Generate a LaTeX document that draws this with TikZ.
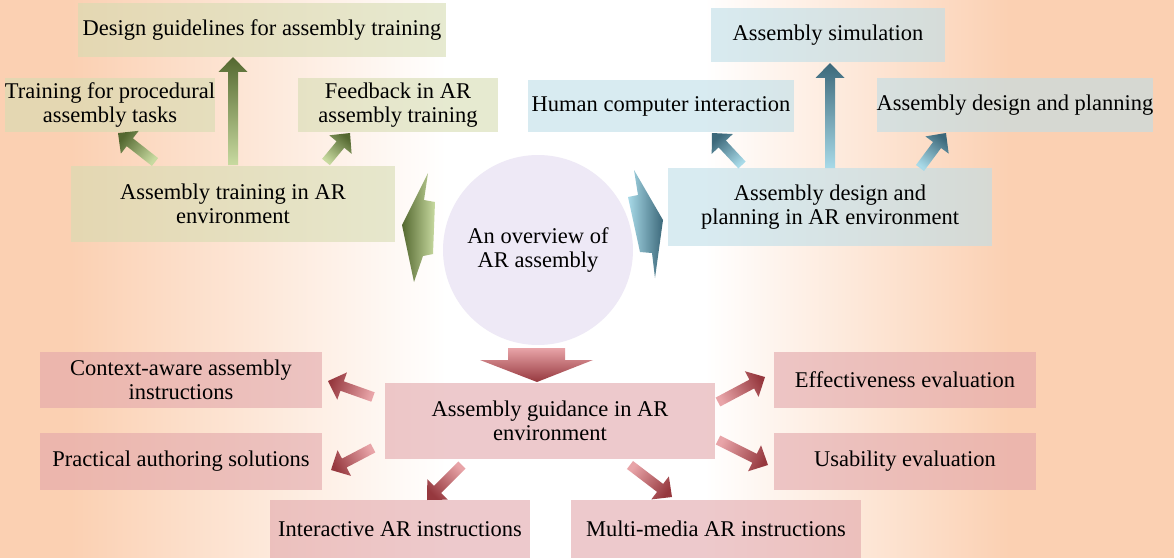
\documentclass[tikz,border=0pt]{standalone}
\usepackage{fontspec}
\setmainfont{Liberation Serif}
\usetikzlibrary{calc}
\definecolor{peach}{RGB}{251,208,178}
\definecolor{olivebox}{RGB}{214,220,178}
\definecolor{bluebox}{RGB}{190,222,232}
\definecolor{redbox}{RGB}{226,166,170}
\definecolor{lavender}{RGB}{238,233,246}
\definecolor{olivedark}{RGB}{84,104,48}
\definecolor{olivelight}{RGB}{200,218,160}
\definecolor{bluedark}{RGB}{60,104,122}
\definecolor{bluelight}{RGB}{168,218,232}
\definecolor{reddark}{RGB}{150,56,62}
\definecolor{redlight}{RGB}{232,164,168}
% the path is fitted to the middle 50bp of the shading
\pgfdeclarehorizontalshading{backdrop}{100bp}{color(0bp)=(peach); color(28bp)=(peach); color(44bp)=(white); color(55bp)=(white); color(68bp)=(peach); color(100bp)=(peach)}
\tikzset{
  box/.style={rectangle, inner sep=0pt, align=center, fill opacity=0.6, text opacity=1,
    font=\fontsize{12.8}{14}\selectfont},
  trainbox/.style={box, fill=olivebox},
  designbox/.style={box, fill=bluebox},
  guidebox/.style={box, fill=redbox},
}
% block arrow: tail, head, light colour, dark colour, shading angle
\newcommand{\blockarrow}[5]{%
  \shade[top color=#4, bottom color=#3, shading angle=#5]
    ($(#1)!0.1cm!90:(#2)$) -- ($($(#2)!0.3cm!(#1)$)!0.1cm!90:(#2)$)
    -- ($($(#2)!0.3cm!(#1)$)!0.29cm!90:(#2)$) -- (#2)
    -- ($($(#2)!0.3cm!(#1)$)!0.29cm!-90:(#2)$)
    -- ($($(#2)!0.3cm!(#1)$)!0.1cm!-90:(#2)$) -- ($(#1)!0.1cm!-90:(#2)$) -- cycle;}

\begin{document}
\begin{tikzpicture}[x=0.02cm, y=-0.02cm]
  \useasboundingbox (0,0) rectangle (1174,558);
  \shade[shading=backdrop] (0,0) rectangle (1174,558);

  % centre
  \node[circle, fill=lavender, minimum size=3.8cm, align=center,
    font=\fontsize{12.8}{14}\selectfont] (overview) at (538,250) {An overview of\\AR assembly};

  % training branch
  \node[trainbox, minimum width=7.36cm, minimum height=1.08cm] (guide) at (262,30) {Design guidelines for assembly training};
  \node[trainbox, minimum width=4.02cm, minimum height=1.1cm] (proc) at (110,105) {Training for procedural\\assembly tasks};
  \node[trainbox, minimum width=4cm, minimum height=1.08cm] (feed) at (398,105) {Feedback in AR\\assembly training};
  \node[trainbox, minimum width=6.48cm, minimum height=1.52cm] (train) at (233,204) {Assembly training in AR\\environment};

  % design branch
  \node[designbox, minimum width=4.7cm, minimum height=1.1cm] (sim) at (828,35) {Assembly simulation};
  \node[designbox, minimum width=5.34cm, minimum height=1.06cm] (hci) at (661,106) {Human computer interaction};
  \node[designbox, minimum width=5.4cm, minimum height=1.1cm] (plan) at (1015,105) {Assembly design and planning};
  \node[designbox, minimum width=6.5cm, minimum height=1.56cm] (design) at (830,207) {Assembly design and\\planning in AR environment};

  % guidance branch
  \node[guidebox, minimum width=6.62cm, minimum height=1.54cm] (guid) at (550,421) {Assembly guidance in AR\\environment};
  \node[guidebox, minimum width=5.64cm, minimum height=1.12cm] (ctx) at (181,380) {Context-aware assembly\\instructions};
  \node[guidebox, minimum width=5.64cm, minimum height=1.14cm] (auth) at (181,461) {Practical authoring solutions};
  \node[guidebox, minimum width=5.2cm, minimum height=1.16cm] (inter) at (400,529) {Interactive AR instructions};
  \node[guidebox, minimum width=5.82cm, minimum height=1.16cm] (multi) at (716,529) {Multi-media AR instructions};
  \node[guidebox, minimum width=5.24cm, minimum height=1.12cm] (eff) at (905,380) {Effectiveness evaluation};
  \node[guidebox, minimum width=5.24cm, minimum height=1.14cm] (usab) at (905,461) {Usability evaluation};

  % arrows out of the centre
  \shade[left color=olivedark, right color=olivelight]
    (428,173) -- (402,225) -- (414,282) -- (423,256) -- (433,254) -- (435,202) -- (424,200) -- cycle;
  \shade[left color=bluelight, right color=bluedark]
    (634,170) -- (663,220) -- (655,278) -- (652,253) -- (640,252) -- (628,197) -- (638,195) -- cycle;
  \shade[top color=redlight, bottom color=reddark]
    (508,348) -- (565,348) -- (565,360) -- (593,360) -- (537,382) -- (480,360) -- (508,360) -- cycle;

  % small arrows
  \coordinate (t1) at (155,162); \coordinate (h1) at (118,133);
  \coordinate (t2) at (233,165); \coordinate (h2) at (233,57);
  \coordinate (t3) at (326,162); \coordinate (h3) at (350,133);
  \blockarrow{t1}{h1}{olivelight}{olivedark}{52}
  \blockarrow{t2}{h2}{olivelight}{olivedark}{0}
  \blockarrow{t3}{h3}{olivelight}{olivedark}{-40}

  \coordinate (t4) at (742,165); \coordinate (h4) at (712,133);
  \coordinate (t5) at (830,168); \coordinate (h5) at (830,63);
  \coordinate (t6) at (920,168); \coordinate (h6) at (946,133);
  \blockarrow{t4}{h4}{bluelight}{bluedark}{43}
  \blockarrow{t5}{h5}{bluelight}{bluedark}{0}
  \blockarrow{t6}{h6}{bluelight}{bluedark}{-37}

  \coordinate (t7) at (373,397); \coordinate (h7) at (328,381);
  \coordinate (t8) at (373,448); \coordinate (h8) at (331,470);
  \coordinate (t9) at (462,465); \coordinate (h9) at (427,500);
  \coordinate (t10) at (630,465); \coordinate (h10) at (672,497);
  \coordinate (t11) at (718,402); \coordinate (h11) at (765,377);
  \coordinate (t12) at (718,440); \coordinate (h12) at (768,465);
  \blockarrow{t7}{h7}{redlight}{reddark}{71}
  \blockarrow{t8}{h8}{redlight}{reddark}{119}
  \blockarrow{t9}{h9}{redlight}{reddark}{135}
  \blockarrow{t10}{h10}{redlight}{reddark}{-127}
  \blockarrow{t11}{h11}{redlight}{reddark}{-62}
  \blockarrow{t12}{h12}{redlight}{reddark}{-117}
\end{tikzpicture}
\end{document}
